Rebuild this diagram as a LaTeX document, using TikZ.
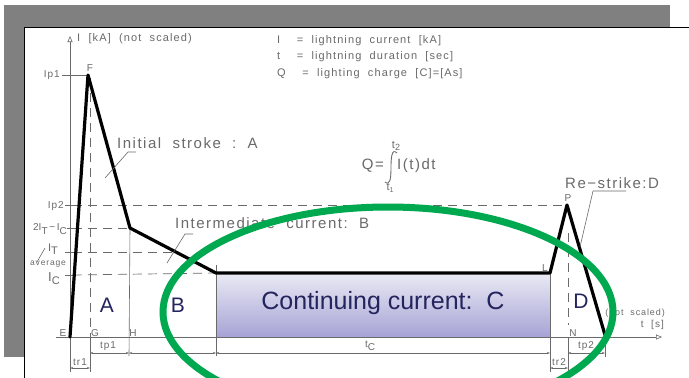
\documentclass[tikz,border=0pt]{standalone}
\usepackage{fontspec}
\setmainfont{Liberation Sans}
\newfontfamily\cad[LetterSpace=10]{Liberation Sans}
\usetikzlibrary{arrows.meta,shapes.geometric}
\definecolor{cadgray}{HTML}{6A6A6A}
\definecolor{navy}{HTML}{24245E}
\definecolor{ellgreen}{HTML}{00A84F}
\definecolor{boxtop}{HTML}{E8E8F4}
\definecolor{boxbot}{HTML}{A6A3D5}
\definecolor{bggray}{HTML}{808080}
\begin{document}
\begin{tikzpicture}[x=1pt,y=-1pt,
  cadtext/.style={text=cadgray,font=\cad\fontsize{10}{11}\selectfont,inner sep=0pt},
  legtext/.style={text=cadgray,font=\cad\fontsize{11}{12}\selectfont,inner sep=0pt},
  bigcad/.style={text=cadgray,font=\cad\fontsize{15}{16}\selectfont,inner sep=0pt},
  region/.style={text=navy,font=\fontsize{21}{23}\selectfont,inner sep=0pt},
  curve/.style={line width=3.2pt,black,line join=round,line cap=round},
  thinln/.style={cadgray,line width=0.6pt},
  dashln/.style={cadgray,line width=0.7pt,dash pattern=on 9pt off 6pt},
  dimln/.style={cadgray,line width=0.6pt,{Stealth[length=3pt,width=2pt]}-{Stealth[length=3pt,width=2pt]}},
  axisarrow/.style={cadgray,line width=0.6pt,-{Triangle[open,length=6pt,width=5pt]}}]
\useasboundingbox (0,0) rectangle (689,378);
% background panels
\fill[bggray] (4,5) rectangle (670,357);
\fill[white] (24,27) rectangle (689,378);
\draw[black,line width=1pt] (24,378) -- (24,27) -- (689,27);

% key coordinates
\coordinate (E) at (70,337);
\coordinate (F) at (88,75);
\coordinate (K1) at (130,228);
\coordinate (K2) at (216,273);
\coordinate (L) at (550,273);
\coordinate (P) at (567,205);
\coordinate (R) at (605,335);
\coordinate (G) at (90,337);
\coordinate (H) at (129,337);
\coordinate (N) at (568,337);

% continuing current box
\shade[top color=boxtop,bottom color=boxbot] (216,275) rectangle (550,337);
\node[text=navy,font=\fontsize{25}{27}\selectfont,inner sep=0pt] (cc) at (383,303) {Continuing current:\ \ C};

% axes
\coordinate (yb) at (70,340);
\coordinate (yt) at (70,36);
\coordinate (xl) at (56,337);
\coordinate (xr) at (662,337);
\draw[axisarrow] (yb) -- (yt);
\draw[axisarrow] (xl) -- (xr);

% horizontal reference lines
\draw[thinln] (62,75) -- (F);
\draw[thinln] (65,205) -- (73,205);
\draw[dashln] (73,205) -- (P);
\draw[thinln] (67,228) -- (73,228);
\draw[dashln] (73,228) -- (K1);
\draw[thinln] (65,252) -- (73,252);
\draw[dashln] (73,252) -- (176,252);
\draw[thinln] (65,275) -- (73,275);
\draw[dashln] (73,275) -- (K2);

% vertical reference lines
\draw[dashln] (90,78) -- (G);
\draw[thinln] (G) -- (90,372);
\draw[thinln] (70,337) -- (70,372);
\draw[thinln] (K1) -- (129,356);
\draw[thinln] (216,265) -- (216,356);
\draw[thinln] (L) -- (550,372);
\draw[dashln] (568,233) -- (568,325);
\draw[thinln] (N) -- (568,372);
\draw[thinln] (605,340) -- (605,357);

% dimension lines
\draw[dimln] (90,353) -- (129,353);
\draw[dimln] (129,353) -- (216,353);
\draw[dimln] (216,353) -- (550,353);
\draw[dimln] (568,353) -- (605,353);
\draw[dimln] (70,368) -- (90,368);
\draw[dimln] (550,368) -- (568,368);

% lightning curve
\draw[curve] (E) -- (F) -- (K1) -- (K2) -- (L) -- (P) -- (R);

% leaders
\coordinate (la1) at (105,178); \coordinate (la2) at (128,152); \coordinate (la3) at (136,152);
\draw[thinln] (la1) -- (la2) -- (la3);
\coordinate (lb1) at (167,263); \coordinate (lb2) at (185,234); \coordinate (lb3) at (193,234);
\draw[thinln] (lb1) -- (lb2) -- (lb3);
\coordinate (ld1) at (580,247); \coordinate (ld2) at (593,191); \coordinate (ld3) at (626,191);
\draw[thinln] (ld1) -- (ld2) -- (ld3);

% axis texts
\node[legtext,anchor=west] (ylab) at (77,39) {I\ \ [kA]\ \ (not\ \ scaled)};
\node[cadtext,font=\cad\fontsize{9}{10}\selectfont,anchor=east] (ns) at (665,313) {(not\ \ scaled)};
\node[cadtext,anchor=east] (ts) at (664,325) {t\ \ [s]};

% legend
\node[legtext,anchor=west] (lg1) at (277,41) {I\ \ \ \ =\ \ lightning\ \ current\ \ [kA]};
\node[legtext,anchor=west] (lg2) at (277,57) {t\ \ \ \ =\ \ lightning\ \ duration\ \ [sec]};
\node[legtext,anchor=west] (lg3) at (277,74) {Q\ \ \ \ =\ \ lighting\ \ charge\ \ [C]=[As]};

% formula
\node[bigcad,anchor=east] (fq) at (384,166) {Q=};
\draw[cadgray,line width=0.9pt] (397,153) .. controls (392,148) and (391,157) .. (391,167)
  .. controls (391,179) and (390,186) .. (385,182);
\node[bigcad,anchor=west] (fi) at (397,166) {I(t)dt};
\node[legtext] (ft2) at (396,146) {t\raisebox{-2pt}{\cad\fontsize{9}{9}\selectfont 2}};
\node[legtext] (ft1) at (390,188) {t\raisebox{-2pt}{\cad\fontsize{7}{8}\selectfont 1}};

% y-axis labels
\node[cadtext,anchor=east] (ip1) at (60,75) {Ip1};
\node[cadtext] (lF) at (90,68) {F};
\node[cadtext,anchor=east] (ip2) at (64,206) {Ip2};
\node[cadtext,anchor=east,font=\fontsize{10}{11}\selectfont] (itc) at (67,229) {2I\raisebox{-3.5pt}{T}\,−\,I\raisebox{-3.5pt}{C}};
\node[cadtext,font=\fontsize{11}{11}\selectfont] (it) at (53,249) {I\raisebox{-2.5pt}{T}};
\draw[thinln] (37,262) -- (45,248);
\node[cadtext,font=\cad\fontsize{8.5}{9}\selectfont,inner sep=0pt] (avg) at (48,264) {average};
\node[bigcad,font=\fontsize{13}{14}\selectfont] (ic) at (54,279) {I\raisebox{-3pt}{\fontsize{11}{11}\selectfont C}};

% point labels
\node[cadtext] (lE) at (63,333) {E};
\node[cadtext] (lG) at (95,333) {G};
\node[cadtext] (lH) at (133,333) {H};
\node[cadtext] (lN) at (573,333) {N};
\node[cadtext] (lL) at (545,268) {L};
\node[cadtext] (lP) at (568,198) {P};

% dimension labels
\node[cadtext] (tp1) at (108,346) {tp1};
\node[cadtext] (tr1) at (80,362) {tr1};
\node[cadtext] (tc) at (370,346) {t\raisebox{-3pt}{C}};
\node[cadtext] (tr2) at (559,362) {tr2};
\node[cadtext] (tp2) at (586,346) {tp2};

% phase captions
\node[bigcad,anchor=west] (capA) at (117,143) {Initial\ \ stroke\ \ :\ \ A};
\node[bigcad,anchor=west] (capB) at (175,223) {Intermediate\ \ current:\ \ B};
\node[bigcad,anchor=west] (capD) at (565,183) {Re−strike:D};

% region letters
\node[region] (rA) at (107,305) {A};
\node[region] (rB) at (178,305) {B};
\node[region] (rD) at (581,301) {D};

% green ellipse
\node[draw=ellgreen,line width=7pt,ellipse,minimum width=450pt,minimum height=210pt,inner sep=0pt] (ell) at (388,312) {};
\end{tikzpicture}
\end{document}
